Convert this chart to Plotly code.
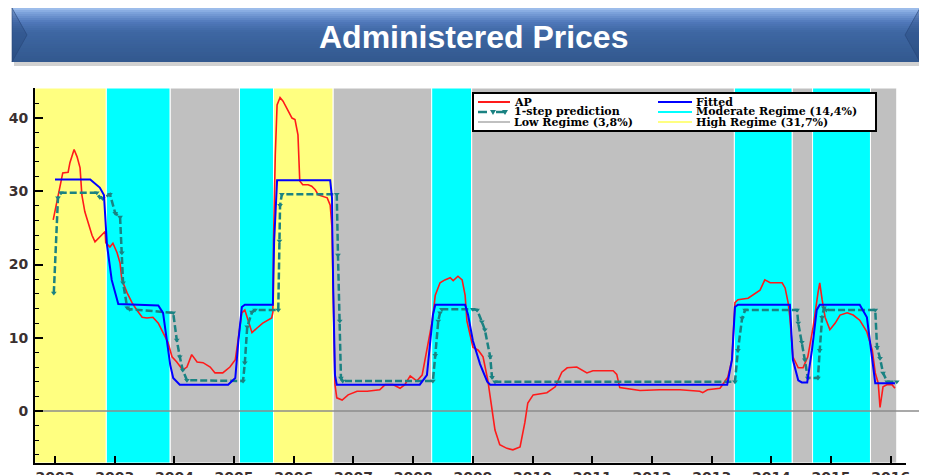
import plotly.graph_objects as go

# ---------------- data (decimal years, %) ----------------
regime_start = [2001.66, 2002.86, 2003.93, 2005.09, 2005.66, 2006.66,
                2008.31, 2008.98, 2013.38, 2014.35, 2014.69, 2015.66]
regime_end = [2002.86, 2003.93, 2005.09, 2005.66, 2006.66, 2008.31,
              2008.98, 2013.38, 2014.35, 2014.69, 2015.66, 2016.10]
regime_kind = ["High", "Moderate", "Low", "Moderate", "High", "Low",
               "Moderate", "Low", "Moderate", "Low", "Moderate", "Low"]

ap_x = [2001.97, 2002.05, 2002.13, 2002.22, 2002.25, 2002.32, 2002.37, 2002.42, 2002.45, 2002.50,
        2002.55, 2002.62, 2002.67, 2002.75, 2002.84, 2002.85, 2002.92, 2002.97, 2003.04, 2003.09,
        2003.12, 2003.21, 2003.29, 2003.37, 2003.46, 2003.54, 2003.64, 2003.73, 2003.81, 2003.89,
        2003.96, 2004.04, 2004.14, 2004.21, 2004.29, 2004.38, 2004.48, 2004.60, 2004.68, 2004.81,
        2004.93, 2005.02, 2005.05, 2005.08, 2005.13, 2005.18, 2005.23, 2005.30, 2005.38, 2005.48,
        2005.63, 2005.65, 2005.66, 2005.69, 2005.72, 2005.77, 2005.82, 2005.90, 2005.97, 2006.02,
        2006.07, 2006.10, 2006.15, 2006.24, 2006.30, 2006.36, 2006.41, 2006.56, 2006.61, 2006.64,
        2006.66, 2006.69, 2006.72, 2006.81, 2006.91, 2007.06, 2007.23, 2007.44, 2007.53, 2007.66,
        2007.78, 2007.86, 2007.95, 2008.06, 2008.15, 2008.23, 2008.32, 2008.37, 2008.45, 2008.53,
        2008.62, 2008.67, 2008.75, 2008.82, 2008.87, 2008.90, 2008.95, 2009.00, 2009.09, 2009.17,
        2009.25, 2009.32, 2009.37, 2009.45, 2009.57, 2009.67, 2009.79, 2009.87, 2009.92, 2010.01,
        2010.24, 2010.38, 2010.49, 2010.58, 2010.74, 2010.91, 2011.01, 2011.35, 2011.41, 2011.46,
        2011.80, 2012.13, 2012.47, 2012.80, 2012.85, 2012.93, 2013.14, 2013.27, 2013.34, 2013.39,
        2013.44, 2013.61, 2013.69, 2013.81, 2013.89, 2013.98, 2014.06, 2014.18, 2014.23, 2014.28,
        2014.31, 2014.36, 2014.45, 2014.53, 2014.61, 2014.70, 2014.78, 2014.81, 2014.85, 2014.90,
        2014.98, 2015.07, 2015.15, 2015.27, 2015.37, 2015.48, 2015.60, 2015.69, 2015.74, 2015.79,
        2015.82, 2015.85, 2015.87, 2015.94, 2016.02, 2016.07]
ap_y = [26.1, 29.1, 32.5, 32.6, 33.9, 35.7, 34.7, 33.2, 29.5, 27.2,
        25.8, 24.0, 23.1, 23.8, 24.5, 23.0, 22.4, 22.9, 21.6, 20.2,
        17.9, 16.1, 14.8, 13.8, 12.8, 12.7, 12.8, 12.0, 10.7, 9.4,
        7.4, 6.7, 5.6, 6.0, 7.7, 6.7, 6.6, 6.0, 5.2, 5.2,
        6.0, 7.0, 8.7, 10.7, 13.4, 13.8, 12.4, 10.7, 11.3, 12.0,
        12.7, 13.5, 23.2, 35.0, 41.8, 42.8, 42.3, 41.0, 40.0, 39.8,
        37.7, 31.4, 30.9, 30.9, 30.7, 30.2, 29.5, 29.1, 28.1, 25.0,
        15.0, 3.6, 1.8, 1.5, 2.2, 2.7, 2.7, 2.9, 3.6, 3.6,
        3.1, 3.6, 4.8, 4.1, 4.9, 8.2, 12.3, 15.8, 17.5, 17.9,
        18.2, 17.8, 18.4, 17.9, 15.8, 12.3, 10.4, 8.7, 8.3, 7.4,
        4.2, 0.1, -2.6, -4.6, -5.1, -5.3, -4.9, -1.6, 1.1, 2.2,
        2.5, 3.3, 5.3, 5.9, 6.0, 5.2, 5.5, 5.5, 5.0, 3.2,
        2.8, 2.9, 2.9, 2.7, 2.5, 2.9, 3.1, 4.6, 7.0, 14.8,
        15.2, 15.4, 15.8, 16.5, 17.9, 17.5, 17.5, 17.5, 16.8, 14.8,
        12.8, 7.4, 5.9, 5.9, 7.4, 11.5, 16.1, 17.5, 15.2, 12.8,
        11.1, 12.0, 13.1, 13.4, 13.1, 12.4, 10.8, 8.3, 5.2, 3.8,
        0.5, 1.9, 3.3, 3.6, 3.6, 3.1]

fit_x = [2002.00, 2002.59, 2002.75, 2002.82, 2002.87, 2002.95, 2003.06, 2003.73, 2003.81, 2003.89,
         2003.93, 2003.98, 2004.09, 2004.90, 2005.02, 2005.07, 2005.13, 2005.18, 2005.65, 2005.67,
         2005.72, 2006.61, 2006.64, 2006.66, 2006.69, 2006.72, 2008.11, 2008.23, 2008.28, 2008.33,
         2008.37, 2008.87, 2008.92, 2009.00, 2009.12, 2009.24, 2009.29, 2013.26, 2013.34, 2013.39,
         2013.44, 2014.31, 2014.36, 2014.45, 2014.51, 2014.60, 2014.68, 2014.76, 2014.81, 2015.48,
         2015.60, 2015.69, 2015.74, 2016.07]
fit_y = [31.6, 31.6, 30.5, 29.5, 22.7, 17.9, 14.6, 14.4, 13.4, 8.7,
         6.3, 4.5, 3.6, 3.6, 4.5, 9.4, 14.2, 14.5, 14.5, 23.0,
         31.5, 31.5, 29.1, 16.8, 4.9, 3.6, 3.6, 4.9, 8.6, 13.1,
         14.5, 14.5, 13.1, 9.6, 6.4, 4.0, 3.6, 3.6, 7.0, 14.2,
         14.5, 14.5, 7.0, 4.2, 3.9, 3.9, 8.3, 13.8, 14.5, 14.5,
         12.8, 7.0, 3.8, 3.8]

pred_x = [2001.98, 2002.05, 2002.10, 2002.70, 2002.75, 2002.80, 2002.92, 2003.01, 2003.09, 2003.12,
          2003.14, 2003.21, 2003.25, 2003.98, 2004.04, 2004.09, 2004.14, 2004.21, 2005.15, 2005.18,
          2005.22, 2005.30, 2005.35, 2005.74, 2005.76, 2005.77, 2005.80, 2006.72, 2006.74, 2006.77,
          2006.79, 2006.82, 2008.33, 2008.37, 2008.42, 2008.45, 2008.48, 2009.00, 2009.07, 2009.15,
          2009.20, 2009.29, 2009.32, 2009.37, 2013.39, 2013.44, 2013.51, 2013.56, 2014.43, 2014.45,
          2014.51, 2014.56, 2014.61, 2014.78, 2014.81, 2014.85, 2014.88, 2014.92, 2015.74, 2015.77,
          2015.82, 2015.87, 2015.94, 2016.10]
pred_y = [16.1, 29.1, 29.8, 29.8, 29.2, 29.0, 29.6, 27.0, 26.5, 21.6,
          17.5, 14.1, 13.9, 13.4, 9.7, 7.4, 5.6, 4.2, 4.1, 6.6,
          11.5, 13.5, 13.8, 13.8, 23.2, 28.1, 29.6, 29.6, 21.3, 12.3,
          4.5, 4.1, 4.1, 7.6, 12.3, 13.4, 13.9, 13.9, 13.8, 12.2,
          11.1, 7.4, 4.6, 4.0, 4.0, 8.3, 12.7, 13.8, 13.8, 12.0,
          9.4, 7.0, 4.5, 4.5, 8.3, 12.8, 14.1, 13.8, 13.8, 8.7,
          7.2, 5.2, 4.0, 4.0]

year_ticks = list(range(2002, 2017))
value_ticks = [0, 10, 20, 30, 40]
chart_title = "Administered Prices"
legend_labels = ["AP", "Fitted", "1-step prediction", "Moderate Regime (14,4%)",
                 "Low Regime (3,8%)", "High Regime (31,7%)"]

# ---------------- geometry ----------------
# the page body has an 8px margin, so the figure sits at (8, 8) in the window;
# positions below are given in window pixels and converted to paper units.
OFF = 8
W, H = 927 - OFF, 475 - OFF
PLOT_L, PLOT_R, PLOT_T, PLOT_B = 35, 906, 88, 463  # window pixels
PW, PH = PLOT_R - PLOT_L, PLOT_B - PLOT_T
MARGIN = dict(l=PLOT_L - OFF, r=W - (PLOT_R - OFF), t=PLOT_T - OFF, b=H - (PLOT_B - OFF), pad=0)

RED, BLUE, TEAL = "#ff1a1a", "#0000ff", "#1a8282"
REGIME_COLOR = {"High": "#ffff80", "Moderate": "#00ffff", "Low": "#c0c0c0"}


def fx(px):
    return (px - PLOT_L) / PW


def fy(py):
    return (PLOT_B - py) / PH


fig = go.Figure()
fig.add_trace(go.Scatter(x=ap_x, y=ap_y, mode="lines", line=dict(color=RED, width=1.6),
                         showlegend=False))
fig.add_trace(go.Scatter(x=pred_x, y=pred_y, mode="lines+markers",
                         line=dict(color=TEAL, width=2.5, dash="7px,3px"),
                         marker=dict(symbol="triangle-down", size=5, color=TEAL),
                         showlegend=False))
fig.add_trace(go.Scatter(x=fit_x, y=fit_y, mode="lines", line=dict(color=BLUE, width=2),
                         showlegend=False))

shapes = []
# regime bands
for x0, x1, kind in zip(regime_start, regime_end, regime_kind):
    shapes.append(dict(type="rect", xref="x", yref="paper", x0=x0, x1=x1, y0=0, y1=1,
                       fillcolor=REGIME_COLOR[kind], line=dict(color="white", width=1),
                       layer="below"))
# zero line (runs a bit past the plot edge like the original)
shapes.append(dict(type="line", xref="paper", yref="y", x0=0, x1=fx(923), y0=0, y1=0,
                   line=dict(color="#8c8c8c", width=1.5), layer="below"))

# title banner: shadow, vertical gradient bands, bevel facets
shapes.append(dict(type="rect", xref="paper", yref="paper", x0=fx(14), x1=fx(924),
                   y0=fy(66), y1=fy(10), fillcolor="rgba(0,0,0,0.18)", line_width=0))
stops = [(8, (165, 195, 238)), (12, (128, 166, 222)), (22, (80, 120, 186)),
         (32, (62, 103, 163)), (62, (50, 88, 142))]


def band_color(py):
    for (a, ca), (b, cb) in zip(stops[:-1], stops[1:]):
        if a <= py <= b:
            t = (py - a) / (b - a)
            return "rgb(%d,%d,%d)" % tuple(round(u + (v - u) * t) for u, v in zip(ca, cb))
    return "rgb(%d,%d,%d)" % stops[-1][1]


for py in range(8, 62, 2):
    shapes.append(dict(type="rect", xref="paper", yref="paper", x0=fx(12), x1=fx(920),
                       y0=fy(py + 2), y1=fy(py), fillcolor=band_color(py + 1), line_width=0))
for xa, xb in ((12, 27), (920, 905)):
    shapes.append(dict(type="path", xref="paper", yref="paper",
                       path="M %f,%f L %f,%f L %f,%f Z" % (fx(xa), fy(8), fx(xb), fy(35), fx(xa), fy(62)),
                       fillcolor="rgba(20,45,90,0.22)", line=dict(color="rgba(40,70,120,0.6)", width=1)))

# legend box
shapes.append(dict(type="rect", xref="paper", yref="paper", x0=fx(473), x1=fx(876),
                   y0=fy(131), y1=fy(93), fillcolor="white", line=dict(color="black", width=2)))

annotations = [dict(text="<b>%s</b>" % chart_title, xref="paper", yref="paper",
                    x=fx(473), y=fy(37), xanchor="center", yanchor="middle", showarrow=False,
                    font=dict(family="Liberation Sans, Arial", size=32, color="white"))]

legend_style = [(RED, "solid"), (BLUE, "solid"), (TEAL, "dash"),
                (REGIME_COLOR["Moderate"], "solid"), (REGIME_COLOR["Low"], "solid"),
                (REGIME_COLOR["High"], "solid")]
rows = [102, 112, 122]
cols = [(478, 510, 513), (658, 692, 695)]
for i, (label, (color, dash)) in enumerate(zip(legend_labels, legend_style)):
    r, c = i // 2, i % 2
    x0, x1, xt = cols[c]
    yy = rows[r]
    shapes.append(dict(type="line", xref="paper", yref="paper", x0=fx(x0), x1=fx(x1),
                       y0=fy(yy), y1=fy(yy),
                       line=dict(color=color, width=2.5 if dash == "dash" else 2, dash=dash)))
    if dash == "dash":
        for mx in (493, 505):
            shapes.append(dict(type="path", xref="paper", yref="paper",
                               path="M %f,%f L %f,%f L %f,%f Z" % (
                                   fx(mx - 3), fy(yy - 2), fx(mx + 3), fy(yy - 2), fx(mx), fy(yy + 3)),
                               fillcolor=TEAL, line_width=0))
    annotations.append(dict(text="<b>%s</b>" % label, xref="paper", yref="paper",
                            x=fx(xt), y=fy(yy), xanchor="left", yanchor="middle",
                            showarrow=False, borderpad=0,
                            font=dict(family="DejaVu Serif", size=11, color="black")))

tick_font = dict(family="DejaVu Sans", size=14, color="#3a3030", weight="bold")
fig.update_layout(
    width=W, height=H, autosize=False,
    margin=MARGIN,
    paper_bgcolor="white", plot_bgcolor="white",
    showlegend=False,
    shapes=shapes, annotations=annotations,
    xaxis=dict(range=[2001.665, 2016.255], tickvals=year_ticks,
               ticktext=[str(y) for y in year_ticks],
               showgrid=False, zeroline=False, showline=True, linecolor="black", linewidth=2,
               ticks="inside", ticklen=7, tickwidth=1.5, tickcolor="black",
               tickfont=tick_font, ticklabelstandoff=0, automargin=False),
    yaxis=dict(range=[-7.1, 44.1], tickvals=value_ticks,
               showgrid=False, zeroline=False, showline=True, linecolor="black", linewidth=2,
               ticks="inside", ticklen=8, tickwidth=1.5, tickcolor="black",
               minor=dict(dtick=2, tick0=0, ticks="inside", ticklen=4, tickcolor="black",
                          tickwidth=1.2, showgrid=False),
               tickfont=tick_font, ticklabelstandoff=2, automargin=False),
)

fig.write_html("out.html")
